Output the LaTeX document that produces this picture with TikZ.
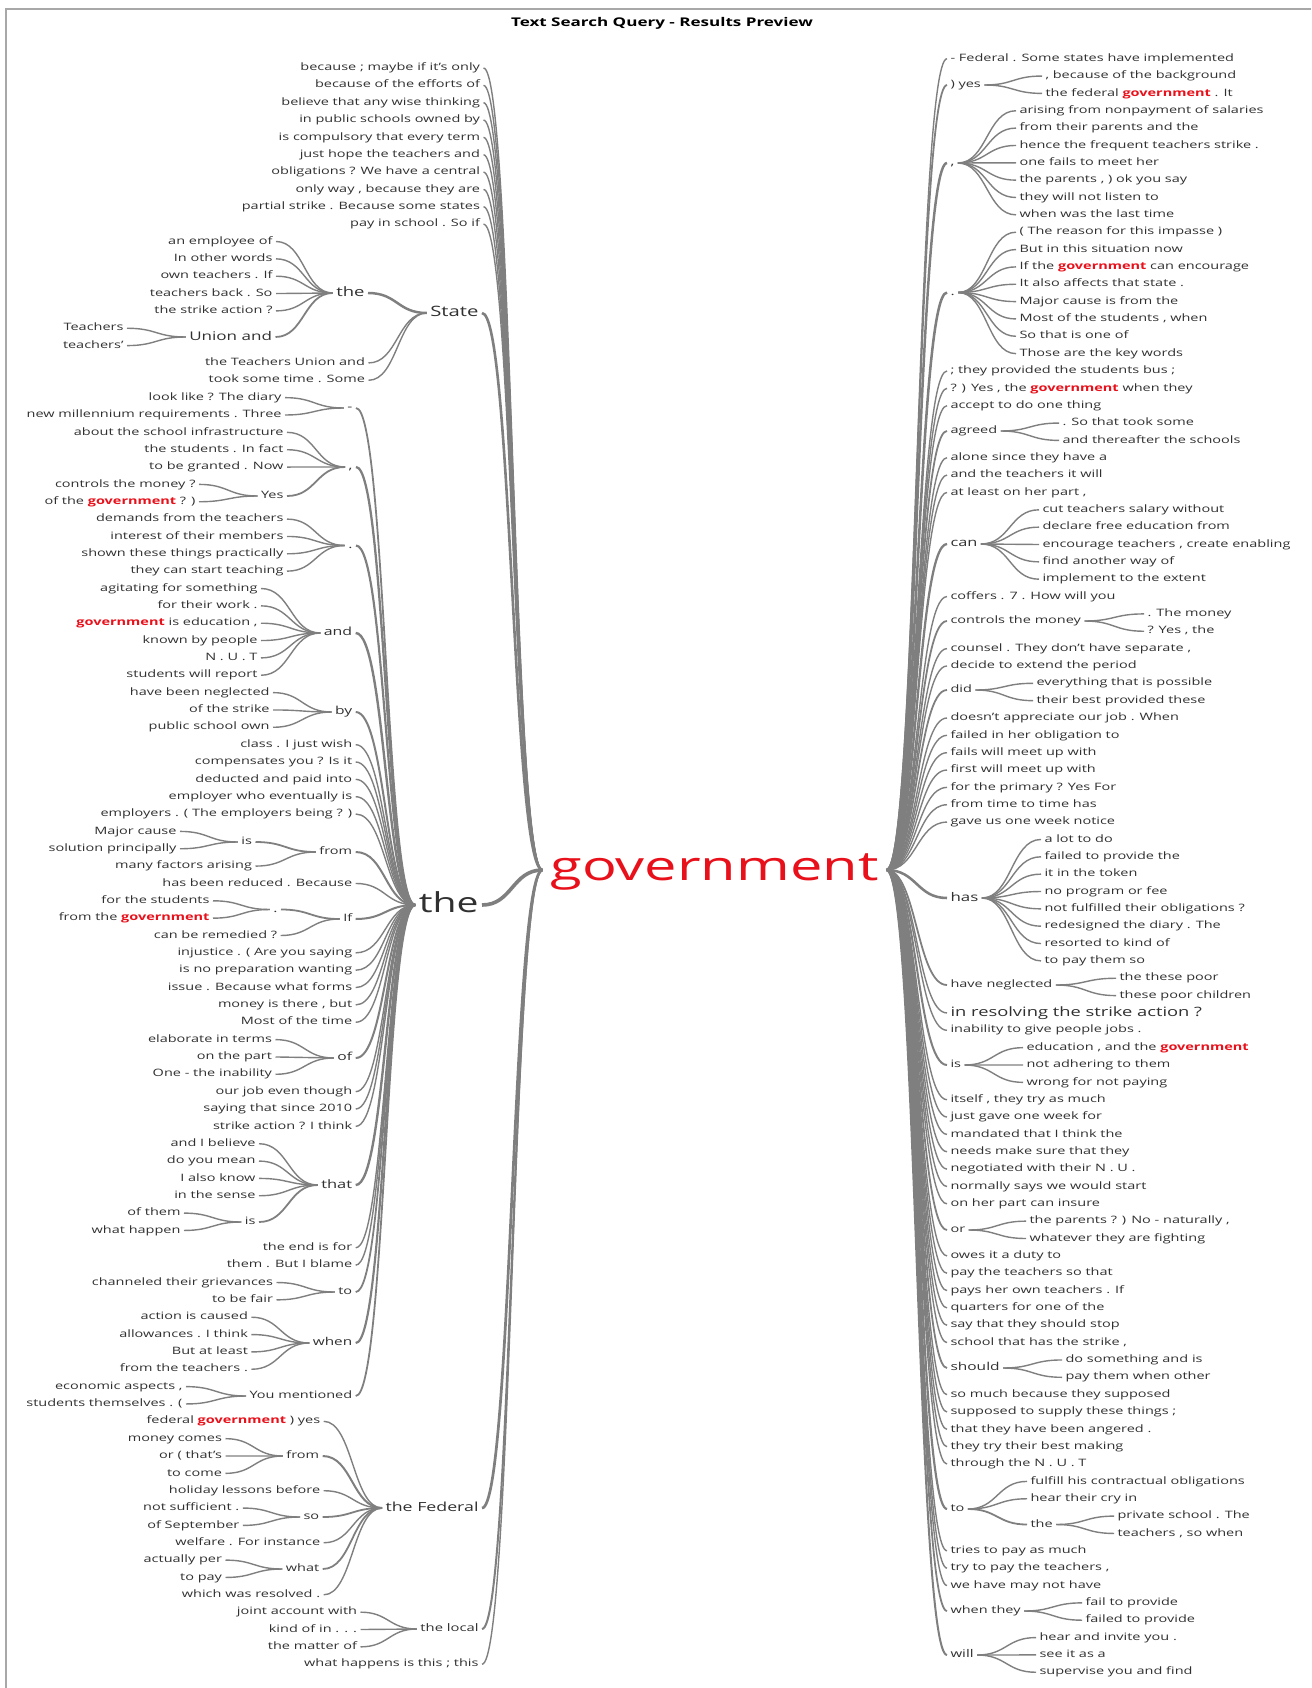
\documentclass[tikz,border=0pt]{standalone}
\usepackage{fontspec}
\setmainfont{Open Sans}[FakeStretch=1.42]
\usetikzlibrary{calc}

\definecolor{wtred}{HTML}{E8101A}
\definecolor{wttext}{HTML}{303030}
\definecolor{wtgrey}{HTML}{7F7F7F}
\definecolor{wtframe}{HTML}{A8A8A8}

\newcommand{\gov}{\textbf{\textcolor{wtred}{government}}}
\pgfmathdeclarefunction{yl}{1}{\pgfmathparse{68+17.35*#1}}
\pgfmathdeclarefunction{yr}{1}{\pgfmathparse{58.7+17.35*#1}}

% curved link, flat at both ends
\newcommand{\wtlink}[3][]{%
  \draw[wtline,#1] let \p1=(#2), \p2=(#3) in
    (\p1) .. controls ({0.5*\x1+0.5*\x2},\y1) and ({0.5*\x1+0.5*\x2},\y2) .. (\p2);}

% a run of leaves, one row each
\newcommand{\leavesL}[4]{%
  \foreach \txt [count=\i from #2] in {#4} {
    \node[leafL] (L\i) at (#3,{yl(\i)}) {\txt};
    \wtlink{#1.west}{L\i.east}
  }}
\newcommand{\leavesR}[4]{%
  \foreach \txt [count=\i from #2] in {#4} {
    \node[leafR] (R\i) at (#3,{yr(\i)}) {\txt};
    \wtlink{#1.east}{R\i.west}
  }}

\begin{document}
\begin{tikzpicture}[x=1pt, y=-1pt,
  wt/.style={font=\fontsize{#1}{#1}\selectfont, text=wttext, inner sep=0pt,
    outer sep=3.5pt, text height={0.72*#1pt}, text depth={0.2*#1pt}},
  leafL/.style={wt=10.2, anchor=east},
  leafR/.style={wt=10.2, anchor=west},
  wtline/.style={draw=wtgrey, line width=1.4pt},
  lw/.style={line width={1.4pt+0.55pt*ln(#1)}}]

  \useasboundingbox (0,0) rectangle (1311,1688);

  % === Window frame and title ===
  \draw[wtframe, line width=2pt] (6,1688) -- (6,9) -- (1311,9);
  \node[font=\fontsize{12}{12}\selectfont\bfseries, text=black] (title) at (662,23)
    {Text Search Query - Results Preview};

  % === Root word ===
  \node[wt=40.7, text=wtred, outer sep=8pt] (gov) at (714.5,870) {government};

  % ================= LEFT SIDE =================

  % Leaves straight on the root (top)
  \leavesL{gov}{0}{483.5}{because ; maybe if it's only, because of the efforts of,
    believe that any wise thinking, in public schools owned by, is compulsory that every term,
    just hope the teachers and, obligations ? We have a central, {only way , because they are},
    partial strike . Because some states, pay in school . So if}

  % State branch
  \node[wt=14.3, anchor=east] (lstate) at (482,313) {State};
  \node[wt=13, anchor=east] (lthe) at (368,293) {the};
  \node[wt=12, anchor=east] (lunion) at (275.5,337) {Union and};
  \wtlink[lw=9]{gov.west}{lstate.east}
  \wtlink[lw=7]{lstate.west}{lthe.east}
  \wtlink[lw=2]{lthe.west}{lunion.east}
  \leavesL{lthe}{10}{276}{an employee of, In other words, own teachers . If,
    teachers back . So, the strike action ?}
  \leavesL{lunion}{15}{127}{Teachers, teachers'}
  \leavesL{lstate}{17}{368.5}{the Teachers Union and, took some time . Some}

  % Big "the" branch
  \node[wt=27.5, anchor=east] (lbig) at (482,905) {the};
  \wtlink[lw=59]{gov.west}{lbig.east}

  \node[wt=11, anchor=east] (ldash) at (356,408) {-};
  \wtlink[lw=2]{lbig.west}{ldash.east}
  \leavesL{ldash}{19}{285}{look like ? The diary, new millennium requirements . Three}

  \node[wt=11, anchor=east] (lcomma) at (356,467) {,};
  \node[wt=10.2, anchor=east] (lyes) at (287,496) {Yes};
  \wtlink[lw=5]{lbig.west}{lcomma.east}
  \wtlink[lw=2]{lcomma.west}{lyes.east}
  \leavesL{lcomma}{21}{287}{about the school infrastructure, the students . In fact,
    to be granted . Now}
  \leavesL{lyes}{24}{199}{controls the money ?, of the \gov{} ? )}

  \node[wt=11, anchor=east] (ldot) at (356,545.5) {.};
  \wtlink[lw=4]{lbig.west}{ldot.east}
  \leavesL{ldot}{26}{287}{demands from the teachers, interest of their members,
    shown these things practically, they can start teaching}

  \node[wt=11.2, anchor=east] (land) at (355.7,633) {and};
  \wtlink[lw=6]{lbig.west}{land.east}
  \leavesL{land}{30}{261}{agitating for something, for their work ., {\gov{} is education ,},
    known by people, N . U . T, students will report}

  \node[wt=11, anchor=east] (lby) at (355.7,712) {by};
  \wtlink[lw=3]{lbig.west}{lby.east}
  \leavesL{lby}{36}{273}{have been neglected, of the strike, public school own}

  \leavesL{lbig}{39}{355.7}{class . I just wish, compensates you ? Is it, deducted and paid into,
    employer who eventually is, employers . ( The employers being ? )}

  \node[wt=10.2, anchor=east] (lfrom) at (355.7,852) {from};
  \node[wt=10.2, anchor=east] (lis) at (255.5,842) {is};
  \wtlink[lw=3]{lbig.west}{lfrom.east}
  \wtlink[lw=2]{lfrom.west}{lis.east}
  \leavesL{lis}{44}{180}{Major cause, solution principally}
  \leavesL{lfrom}{46}{255.5}{many factors arising}

  \leavesL{lbig}{47}{355.7}{has been reduced . Because}

  \node[wt=10.2, anchor=east] (lif) at (355.7,919) {If};
  \node[wt=11, anchor=east] (ldottwo) at (281,909.5) {.};
  \wtlink[lw=3]{lbig.west}{lif.east}
  \wtlink[lw=2]{lif.west}{ldottwo.east}
  \leavesL{ldottwo}{48}{213}{for the students, from the \gov}
  \leavesL{lif}{50}{280.6}{can be remedied ?}

  \leavesL{lbig}{51}{355.7}{injustice . ( Are you saying, is no preparation wanting,
    issue . Because what forms, {money is there , but}, Most of the time}

  \node[wt=11, anchor=east] (lof) at (355.7,1058) {of};
  \wtlink[lw=3]{lbig.west}{lof.east}
  \leavesL{lof}{56}{275.5}{elaborate in terms, on the part, One - the inability}

  \leavesL{lbig}{59}{355.7}{our job even though, saying that since 2010, strike action ? I think}

  \node[wt=11.6, anchor=east] (lthat) at (355.7,1185) {that};
  \node[wt=10.2, anchor=east] (listwo) at (259,1222) {is};
  \wtlink[lw=6]{lbig.west}{lthat.east}
  \wtlink[lw=2]{lthat.west}{listwo.east}
  \leavesL{lthat}{62}{259}{and I believe, do you mean, I also know, in the sense}
  \leavesL{listwo}{66}{184}{of them, what happen}

  \leavesL{lbig}{68}{355.7}{the end is for, them . But I blame}

  \node[wt=10.2, anchor=east] (lto) at (355.7,1292) {to};
  \wtlink[lw=2]{lbig.west}{lto.east}
  \leavesL{lto}{70}{276.5}{channeled their grievances, to be fair}

  \node[wt=10.8, anchor=east] (lwhen) at (355.7,1343) {when};
  \wtlink[lw=4]{lbig.west}{lwhen.east}
  \leavesL{lwhen}{72}{251.4}{action is caused, allowances . I think, But at least, from the teachers .}

  \node[wt=10.2, anchor=east] (lmention) at (355.7,1396) {You mentioned};
  \wtlink[lw=2]{lbig.west}{lmention.east}
  \leavesL{lmention}{76}{186}{{economic aspects ,}, students themselves . (}

  % "the Federal" branch
  \node[wt=12.5, anchor=east] (lfed) at (482,1508) {the Federal};
  \wtlink[lw=11]{gov.west}{lfed.east}
  \leavesL{lfed}{78}{323.7}{federal \gov{} ) yes}
  \node[wt=10.2, anchor=east] (lfedfrom) at (322.7,1456) {from};
  \wtlink[lw=3]{lfed.west}{lfedfrom.east}
  \leavesL{lfedfrom}{79}{225.5}{money comes, or ( that's, to come}
  \leavesL{lfed}{82}{323.7}{holiday lessons before}
  \node[wt=10.2, anchor=east] (lso) at (322.7,1517) {so};
  \wtlink[lw=2]{lfed.west}{lso.east}
  \leavesL{lso}{83}{242.8}{not sufficient ., of September}
  \leavesL{lfed}{85}{323.7}{welfare . For instance}
  \node[wt=10.2, anchor=east] (lwhat) at (322.7,1569) {what};
  \wtlink[lw=2]{lfed.west}{lwhat.east}
  \leavesL{lwhat}{86}{225.5}{actually per, to pay}
  \leavesL{lfed}{88}{323.7}{which was resolved .}

  % "the local" branch
  \node[wt=10.4, anchor=east] (llocal) at (482,1629) {the local};
  \wtlink[lw=3]{gov.west}{llocal.east}
  \leavesL{llocal}{89}{360.5}{joint account with, kind of in . . ., the matter of}

  \leavesL{gov}{92}{482}{what happens is this ; this}

  % ================= RIGHT SIDE =================

  \leavesR{gov}{0}{947}{- Federal . Some states have implemented}

  \node[leafR] (ryes) at (947,85) {) yes};
  \wtlink[lw=2]{gov.east}{ryes.west}
  \leavesR{ryes}{1}{1042}{{, because of the background}, the federal \gov{} . It}

  \node[wt=11, anchor=west] (rcomma) at (947,163) {,};
  \wtlink[lw=7]{gov.east}{rcomma.west}
  \leavesR{rcomma}{3}{1016}{arising from nonpayment of salaries, from their parents and the,
    hence the frequent teachers strike ., one fails to meet her, {the parents , ) ok you say},
    they will not listen to, when was the last time}

  \node[wt=11, anchor=west] (rdot) at (947,292.5) {.};
  \wtlink[lw=8]{gov.east}{rdot.west}
  \leavesR{rdot}{10}{1016}{( The reason for this impasse ), But in this situation now,
    If the \gov{} can encourage, It also affects that state ., Major cause is from the,
    {Most of the students , when}, So that is one of, Those are the key words}

  \leavesR{gov}{18}{947}{; they provided the students bus ;, {? ) Yes , the \gov{} when they},
    accept to do one thing}

  \node[leafR] (ragreed) at (947,431) {agreed};
  \wtlink[lw=2]{gov.east}{ragreed.west}
  \leavesR{ragreed}{21}{1059}{. So that took some, and thereafter the schools}

  \leavesR{gov}{23}{947}{alone since they have a, and the teachers it will, {at least on her part ,}}

  \node[wt=11.5, anchor=west] (rcan) at (947,544) {can};
  \wtlink[lw=5]{gov.east}{rcan.west}
  \leavesR{rcan}{26}{1039}{cut teachers salary without, declare free education from,
    {encourage teachers , create enabling}, find another way of, implement to the extent}

  \leavesR{gov}{31}{947}{coffers . 7 . How will you}

  \node[leafR] (rcontrols) at (947,621) {controls the money};
  \wtlink[lw=2]{gov.east}{rcontrols.west}
  \leavesR{rcontrols}{32}{1144}{. The money, {? Yes , the}}

  \leavesR{gov}{34}{947}{{counsel . They don't have separate ,}, decide to extend the period}

  \node[leafR] (rdid) at (947,690) {did};
  \wtlink[lw=2]{gov.east}{rdid.west}
  \leavesR{rdid}{36}{1033}{everything that is possible, their best provided these}

  \leavesR{gov}{38}{947}{doesn't appreciate our job . When, failed in her obligation to,
    fails will meet up with, first will meet up with, for the primary ? Yes For,
    from time to time has, gave us one week notice}

  \node[wt=11.9, anchor=west] (rhas) at (947,898) {has};
  \wtlink[lw=8]{gov.east}{rhas.west}
  \leavesR{rhas}{45}{1041}{a lot to do, failed to provide the, it in the token, no program or fee,
    not fulfilled their obligations ?, redesigned the diary . The, resorted to kind of,
    to pay them so}

  \node[leafR] (rneglect) at (947,985) {have neglected};
  \wtlink[lw=2]{gov.east}{rneglect.west}
  \leavesR{rneglect}{53}{1116}{the these poor, these poor children}

  \node[wt=12.9, anchor=west] (R55) at (947,{yr(55)}) {in resolving the strike action ?};
  \wtlink{gov.east}{R55.west}
  \leavesR{gov}{56}{947}{inability to give people jobs .}

  \node[leafR] (ris) at (947,1065) {is};
  \wtlink[lw=3]{gov.east}{ris.west}
  \leavesR{ris}{57}{1023}{{education , and the \gov}, not adhering to them, wrong for not paying}

  \leavesR{gov}{60}{947}{{itself , they try as much}, just gave one week for,
    mandated that I think the, needs make sure that they, negotiated with their N . U .,
    normally says we would start, on her part can insure}

  \node[leafR] (ror) at (947,1230) {or};
  \wtlink[lw=2]{gov.east}{ror.west}
  \leavesR{ror}{67}{1026}{{the parents ? ) No - naturally ,}, whatever they are fighting}

  \leavesR{gov}{69}{947}{owes it a duty to, pay the teachers so that, pays her own teachers . If,
    quarters for one of the, say that they should stop, {school that has the strike ,}}

  \node[wt=10.9, anchor=west] (rshould) at (947,1368) {should};
  \wtlink[lw=2]{gov.east}{rshould.west}
  \leavesR{rshould}{75}{1062}{do something and is, pay them when other}

  \leavesR{gov}{77}{947}{so much because they supposed, supposed to supply these things ;,
    that they have been angered ., they try their best making, through the N . U . T}

  \node[leafR] (rto) at (947,1509) {to};
  \node[leafR] (rthe) at (1027,1524.5) {the};
  \wtlink[lw=4]{gov.east}{rto.west}
  \wtlink[lw=2]{rto.east}{rthe.west}
  \leavesR{rto}{82}{1027}{fulfill his contractual obligations, hear their cry in}
  \leavesR{rthe}{84}{1114}{private school . The, {teachers , so when}}

  \leavesR{gov}{86}{947}{tries to pay as much, {try to pay the teachers ,}, we have may not have}

  \node[leafR] (rwhen) at (947,1611) {when they};
  \wtlink[lw=2]{gov.east}{rwhen.west}
  \leavesR{rwhen}{89}{1082}{fail to provide, failed to provide}

  \node[wt=10.6, anchor=west] (rwill) at (947,1655) {will};
  \wtlink[lw=3]{gov.east}{rwill.west}
  \leavesR{rwill}{91}{1036}{hear and invite you ., see it as a, supervise you and find}

\end{tikzpicture}
\end{document}
